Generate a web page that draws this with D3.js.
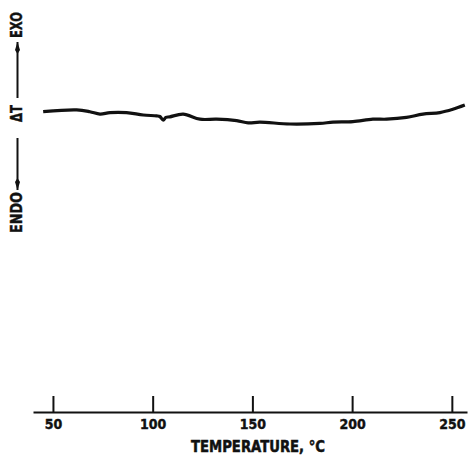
<!DOCTYPE html>
<html>
<head>
<meta charset="utf-8">
<script src="https://cdn.jsdelivr.net/npm/d3@7"></script>
<style>
  html, body { margin: 0; padding: 0; background: #fff; }
  svg { display: block; }
  .lbl { font-family: "DejaVu Sans Condensed", "DejaVu Sans", sans-serif; font-weight: bold; fill: #111; }
</style>
</head>
<body>
<svg id="chart" width="473" height="456"></svg>
<script>
// DTA trace, temperature in degC, deflection in arbitrary units
const temperature = [45.1, 61.9, 68.5, 73.6, 78.6, 86.9, 95.3, 102.0, 103.6, 105.3, 106.6, 108.6,
  115.3, 123.7, 132.1, 142.1, 147.9, 153.8, 168.8, 183.8, 190.4, 200.4, 210.4, 217.3,
  227.3, 235.5, 244.0, 250.5, 256.5];
const deltaT = [100.1, 100.7, 100.1, 99.3, 99.8, 99.8, 99.0, 98.7, 98.5, 97.3, 98.2, 98.4,
  99.3, 97.6, 97.6, 97.1, 96.4, 96.6, 96.0, 96.2, 96.6, 96.8, 97.6, 97.6,
  98.2, 99.3, 99.8, 100.9, 102.3];
const tickValues = [50, 100, 150, 200, 250];

const svg = d3.select("#chart");

const x = d3.scaleLinear().domain([40, 257.6]).range([33, 467]);
const y = d3.scaleLinear().domain([0, 100]).range([412, 112]);

// x axis: ticks stick up, labels below
const axis = svg.append("g")
  .attr("transform", `translate(0, ${y(0)})`)
  .call(d3.axisBottom(x).tickValues(tickValues).tickSize(-16).tickSizeOuter(0).tickPadding(7));
axis.select(".domain").attr("stroke", "#111").attr("stroke-width", 2.2);
axis.selectAll(".tick line").attr("stroke", "#111").attr("stroke-width", 2);
axis.selectAll(".tick text").attr("class", "lbl").attr("font-size", 14)
  .attr("stroke", "#111").attr("stroke-width", 0.4);

svg.append("text")
  .attr("class", "lbl")
  .attr("x", 258).attr("y", 451.5)
  .attr("text-anchor", "middle")
  .attr("font-size", 16)
  .attr("stroke", "#111").attr("stroke-width", 0.5)
  .attr("textLength", 134)
  .attr("lengthAdjust", "spacingAndGlyphs")
  .text("TEMPERATURE, °C");

// trace
const line = d3.line()
  .x((d, i) => x(temperature[i]))
  .y(d => y(d))
  .curve(d3.curveCatmullRom);

svg.append("path")
  .datum(deltaT)
  .attr("d", line)
  .attr("fill", "none")
  .attr("stroke", "#111")
  .attr("stroke-width", 3.2)
  .attr("stroke-linejoin", "round");

// left indicator: ENDO <--- ΔT ---> EXO
const lx = 17.5;
const vlabel = (txt, cy, len) => svg.append("text")
  .attr("class", "lbl")
  .attr("font-size", 15)
  .attr("text-anchor", "middle")
  .attr("stroke", "#111").attr("stroke-width", 0.4)
  .attr("textLength", len)
  .attr("lengthAdjust", "spacingAndGlyphs")
  .attr("transform", `translate(22, ${cy}) rotate(-90)`)
  .text(txt);
vlabel("EXO", 25, 26);
vlabel("ΔT", 113.5, 17);
vlabel("ENDO", 212.5, 41);

svg.append("defs").append("marker")
  .attr("id", "ah")
  .attr("viewBox", "0 0 12 6")
  .attr("refX", 12).attr("refY", 3)
  .attr("markerUnits", "userSpaceOnUse")
  .attr("markerWidth", 12).attr("markerHeight", 6)
  .attr("orient", "auto")
  .append("path").attr("d", "M0,3L4,0.5L12,3L4,5.5Z").attr("fill", "#111");

svg.append("line")
  .attr("x1", lx).attr("y1", 98).attr("x2", lx).attr("y2", 42)
  .attr("stroke", "#111").attr("stroke-width", 2)
  .attr("marker-end", "url(#ah)");
svg.append("line")
  .attr("x1", lx).attr("y1", 138).attr("x2", lx).attr("y2", 190)
  .attr("stroke", "#111").attr("stroke-width", 2)
  .attr("marker-end", "url(#ah)");
</script>
</body>
</html>
